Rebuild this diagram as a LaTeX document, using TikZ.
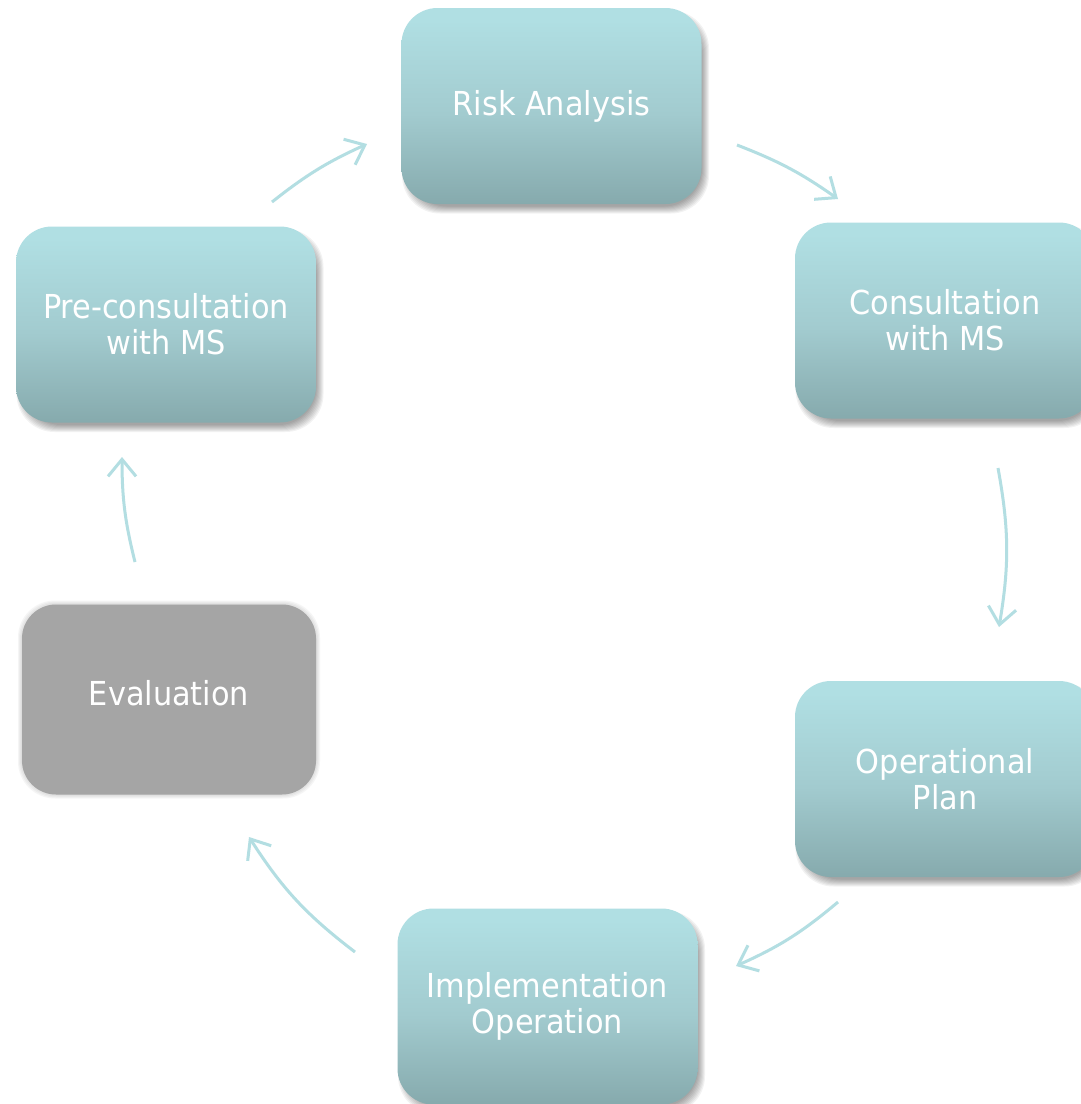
\documentclass[tikz,border=0pt]{standalone}
\usepackage{fontspec}
\setmainfont{DejaVu Sans}[FakeStretch=0.92]
\usetikzlibrary{arrows.meta}
\definecolor{boxtop}{HTML}{B0DFE3}
\definecolor{boxmid}{HTML}{A2CBCF}
\definecolor{boxbot}{HTML}{86AAAD}
\definecolor{arrowc}{HTML}{B3DEE2}
\definecolor{evalg}{HTML}{A5A5A5}
\pgfdeclareverticalshading{boxshade}{100bp}{color(0bp)=(boxbot); color(25bp)=(boxbot); color(48bp)=(boxmid); color(72bp)=(boxtop); color(100bp)=(boxtop)}
\newcommand\softshadow[2]{%
  \foreach \k in {0,...,7}{%
    \fill[black, opacity=0.05, rounded corners=38pt]
      ({#1-150+4-\k+3.5},{#2-98+6-\k+3.5}) rectangle ({#1+150+4+\k-3.5},{#2+98+6+\k-3.5});
  }}
\tikzset{
  stepbox/.style={rounded corners=36pt, minimum width=300pt, minimum height=196pt,
    inner sep=0pt, shading=boxshade, text=white, align=center,
    font=\fontsize{33}{36}\selectfont},
  evalbox/.style={rounded corners=34pt, minimum width=294pt, minimum height=190pt,
    inner sep=0pt, fill=evalg, text=white, align=center,
    font=\fontsize{33}{36}\selectfont},
  arr/.style={draw=arrowc, line width=3pt,
    -{Straight Barb[length=17pt,width=28pt]}}
}
\begin{document}
\begin{tikzpicture}[x=1pt,y=-1pt]
\useasboundingbox (0,0) rectangle (1080,1104);
\fill[white] (0,0) rectangle (1080,1104);
% shadows
\softshadow{551.5}{106}
\softshadow{945}{320.5}
\softshadow{945}{779}
\softshadow{547.5}{1006.5}
\softshadow{166}{324.5}
% evaluation soft edge
\foreach \k in {0,...,4}{%
  \fill[evalg, opacity=0.1, rounded corners=37pt]
    ({169-147-\k},{699.5-95-\k}) rectangle ({169+147+\k},{699.5+95+\k});
}
% boxes
\node[stepbox] (risk) at (551.5,106) {Risk Analysis};
\node[stepbox] (cons) at (945,320.5) {Consultation\\with MS};
\node[stepbox] (oper) at (945,779) {Operational\\Plan};
\node[stepbox] (impl) at (547.5,1006.5) {Implementation\\Operation};
\node[evalbox] (eval) at (169,699.5) {\raisebox{-5.5pt}[0pt][0pt]{Evaluation}};
\node[stepbox] (pre) at (166,324.5) {Pre-consultation\\with MS};
% arrow end points
\coordinate (a1s) at (272,202);  \coordinate (a1e) at (367,144);
\coordinate (a2s) at (737,145);  \coordinate (a2e) at (838,199);
\coordinate (a3s) at (998,468);  \coordinate (a3e) at (999,627);
\coordinate (a4s) at (838,902);  \coordinate (a4e) at (736,966);
\coordinate (a5s) at (355,952);  \coordinate (a5e) at (249,837);
\coordinate (a6s) at (135,562);  \coordinate (a6e) at (122,457);
\draw[arr] (a1s) to[bend left=7] (a1e);
\draw[arr] (a2s) to[bend left=7] (a2e);
\draw[arr] (a3s) to[bend left=10] (a3e);
\draw[arr] (a4s) to[bend left=8] (a4e);
\draw[arr] (a5s) to[bend left=10] (a5e);
\draw[arr] (a6s) to[bend left=7] (a6e);
\end{tikzpicture}
\end{document}
